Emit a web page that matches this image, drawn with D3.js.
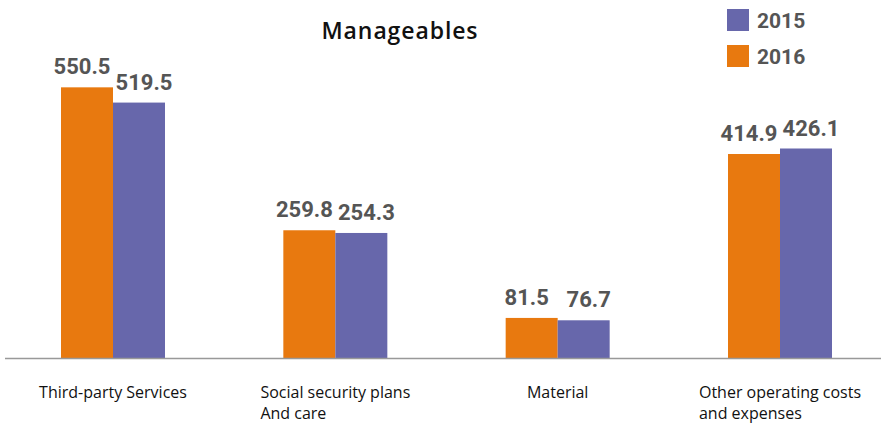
<!DOCTYPE html>
<html><head><meta charset="utf-8">
<script src="https://cdn.jsdelivr.net/npm/d3@7"></script>
<style>
html,body{margin:0;padding:0;background:#fff;}
svg{display:block;}
</style></head>
<body>
<script>
const categories = [["Third-party Services"], ["Social security plans", "And care"], ["Material"], ["Other operating costs", "and expenses"]];
const seriesNames = ["2016", "2015"];
const values2016 = [550.5, 259.8, 81.5, 414.9];
const values2015 = [519.5, 254.3, 76.7, 426.1];
const legendOrder = ["2015", "2016"];
const title = "Manageables";

const W = 881, H = 424;
const colors = {"2016": "#E8790F", "2015": "#6767AB"};
const labelShift = {"2016": -5, "2015": 5};
const svg = d3.select("body").append("svg").attr("width", W).attr("height", H);

const keys = categories.map((c, i) => "c" + i);
const x = d3.scalePoint().domain(keys).range([113, 780]);
const xi = d3.scaleBand().domain(seriesNames).range([-52, 52]);
const y = d3.scaleLinear().domain([0, 600]).range([358, 358 - 295]);

const data = keys.map((k, i) => ({k, vals: [{s: "2016", v: values2016[i]}, {s: "2015", v: values2015[i]}]}));

const g = svg.append("g");
const grp = g.selectAll("g.grp").data(data).join("g").attr("transform", d => `translate(${x(d.k)},0)`);
grp.selectAll("rect").data(d => d.vals).join("rect")
  .attr("x", d => xi(d.s)).attr("width", xi.bandwidth())
  .attr("y", d => y(d.v)).attr("height", d => y(0) - y(d.v))
  .attr("fill", d => colors[d.s]);
grp.selectAll("text.val").data(d => d.vals).join("text").attr("class", "val")
  .attr("x", d => xi(d.s) + xi.bandwidth() / 2 + labelShift[d.s]).attr("y", d => y(d.v) - 13)
  .attr("text-anchor", "middle")
  .attr("font-family", "Roboto").attr("font-weight", "bold").attr("font-size", 22)
  .attr("fill", "#555").text(d => d.v.toFixed(1));

// baseline
svg.append("line").attr("x1", 5).attr("x2", W).attr("y1", y(0) + 0.5).attr("y2", y(0) + 0.5)
  .attr("stroke", "#999").attr("stroke-width", 1.5);

// category labels
grp.each(function(d, i) {
  const t = d3.select(this).append("text")
    .attr("font-family", "Open Sans").attr("font-size", 16).attr("fill", "#111");
  categories[i].forEach((line, j) => {
    t.append("tspan").attr("x", 0).attr("y", 398 + j * 21).text(line);
  });
  const w = t.node().getBBox().width;
  t.selectAll("tspan").attr("x", -w / 2);
});

// title
svg.append("text").attr("x", 400).attr("y", 39).attr("text-anchor", "middle")
  .attr("font-family", "Open Sans").attr("font-weight", 600).attr("font-size", 23)
  .attr("letter-spacing", 0.9)
  .attr("fill", "#111").text(title);

// legend
const lg = svg.append("g").selectAll("g").data(legendOrder).join("g")
  .attr("transform", (d, i) => `translate(727,${9 + i * 36})`);
lg.append("rect").attr("width", 22).attr("height", 22).attr("fill", d => colors[d]);
lg.append("text").attr("x", 30).attr("y", 18.5)
  .attr("font-family", "Roboto").attr("font-weight", "bold").attr("font-size", 21)
  .attr("fill", "#555").text(d => d);
</script>
</body></html>
